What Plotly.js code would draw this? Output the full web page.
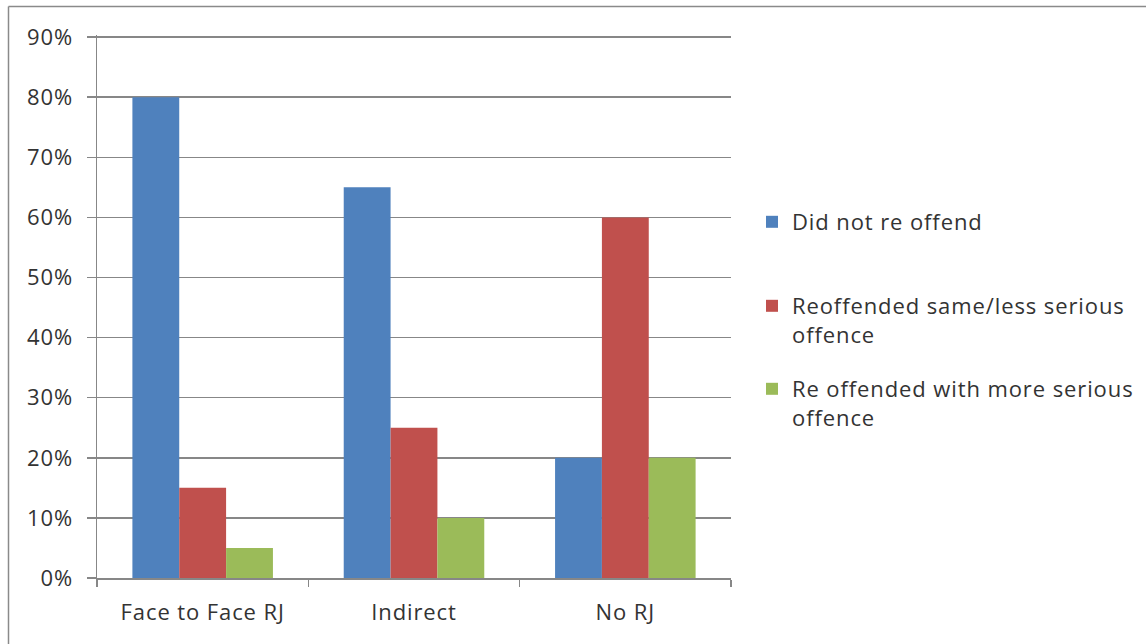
<!DOCTYPE html>
<html>
<head>
<meta charset="utf-8">
<script src="https://cdn.plot.ly/plotly-3.0.1.min.js"></script>
<style>
  html, body { margin: 0; padding: 0; background: #fff; }
  #chart { width: 1146px; height: 644px; }
  svg text { letter-spacing: 0.9px; }
</style>
</head>
<body>
<div id="chart"></div>
<script>
// Reoffending outcomes by type of restorative justice
const categories = ['Face to Face RJ', 'Indirect', 'No RJ'];
const seriesNames = [
  'Did not re offend',
  'Reoffended same/less serious<br>offence',
  'Re offended with more serious<br>offence'
];
const didNotReoffend = [0.80, 0.65, 0.20];
const reoffendedSameOrLess = [0.15, 0.25, 0.60];
const reoffendedMoreSerious = [0.05, 0.10, 0.20];
const seriesColors = ['#4F81BD', '#C0504D', '#9BBB59'];

const W = 1146, H = 644;
const margin = { l: 97, r: 415, t: 35, b: 66 };
const plotW = W - margin.l - margin.r;
const plotH = H - margin.t - margin.b;
// convert page pixels to paper coordinates for the frame lines
const px = x => (x - margin.l) / plotW;
const py = y => (H - margin.b - y) / plotH;

const gridColor = '#878787';
const textColor = '#333333';
const font = { family: 'Open Sans, sans-serif', size: 22, color: textColor };

// one legend box per series so each entry sits at its own height
const legendIds = ['legend', 'legend2', 'legend3'];
const legendTops = [201, 285, 368];
const legendLeft = 752;

const values = [didNotReoffend, reoffendedSameOrLess, reoffendedMoreSerious];
const data = values.map((v, i) => ({
  type: 'bar',
  name: seriesNames[i],
  x: categories,
  y: v,
  marker: { color: seriesColors[i], line: { width: 0 } },
  legend: legendIds[i],
  hoverinfo: 'x+y+name'
}));

const layout = {
  width: W,
  height: H,
  margin: margin,
  paper_bgcolor: '#ffffff',
  plot_bgcolor: '#ffffff',
  font: font,
  barmode: 'group',
  bargap: 0.335,
  bargroupgap: 0,
  showlegend: true,
  xaxis: {
    type: 'category',
    showline: true,
    linecolor: gridColor,
    linewidth: 1.5,
    ticks: 'outside',
    tickson: 'boundaries',
    ticklen: 7,
    tickwidth: 1.5,
    tickcolor: gridColor,
    ticklabelstandoff: 14,
    showgrid: false,
    tickfont: font,
    fixedrange: true
  },
  yaxis: {
    range: [0, 0.9035],
    dtick: 0.1,
    tickformat: '.0%',
    showline: true,
    linecolor: gridColor,
    linewidth: 1.5,
    ticks: 'outside',
    ticklen: 9,
    tickwidth: 1.5,
    tickcolor: gridColor,
    ticklabelstandoff: 9,
    showgrid: true,
    gridcolor: gridColor,
    gridwidth: 1.5,
    zeroline: false,
    tickfont: font,
    fixedrange: true
  },
  shapes: [
    { type: 'line', xref: 'paper', yref: 'paper',
      x0: px(8.5), x1: px(8.5), y0: py(H + 2), y1: py(6.5),
      line: { color: '#8a8a8a', width: 1.5 } },
    { type: 'line', xref: 'paper', yref: 'paper',
      x0: px(8.5), x1: px(W + 2), y0: py(6.5), y1: py(6.5),
      line: { color: '#8a8a8a', width: 1.5 } }
  ]
};

legendIds.forEach((id, i) => {
  layout[id] = {
    xref: 'container',
    yref: 'container',
    x: legendLeft / W,
    xanchor: 'left',
    y: 1 - legendTops[i] / H,
    yanchor: 'top',
    valign: 'top',
    font: font,
    bgcolor: 'rgba(0,0,0,0)'
  };
});

Plotly.newPlot('chart', data, layout, { displayModeBar: false, staticPlot: true });
</script>
</body>
</html>
